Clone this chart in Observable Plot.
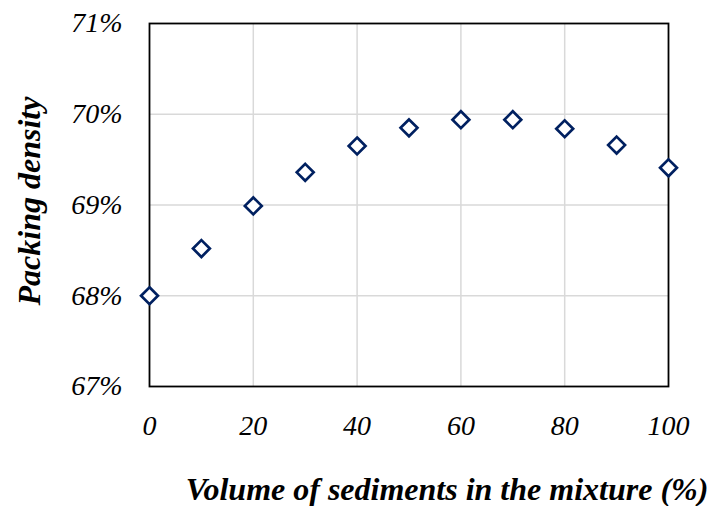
<!DOCTYPE html>
<html>
<head>
<meta charset="utf-8">
<script src="https://cdn.jsdelivr.net/npm/d3@7"></script>
<script src="https://cdn.jsdelivr.net/npm/@observablehq/plot@0.6"></script>
<style>
  html, body { margin: 0; padding: 0; background: #fff; }
  #chart svg { display: block; }
</style>
</head>
<body>
<div id="chart"></div>
<script>
const volume = [0, 10, 20, 30, 40, 50, 60, 70, 80, 90, 100];
const packing = [68.0, 68.52, 68.99, 69.36, 69.65, 69.85, 69.94, 69.94, 69.84, 69.66, 69.41];
const xTicks = [0, 20, 40, 60, 80, 100];
const yTicks = [67, 68, 69, 70, 71];
const xTitle = "Volume of sediments in the mixture (%)";
const yTitle = "Packing density";

const data = volume.map((v, i) => ({volume: v, packing: packing[i]}));

const chart = Plot.plot({
  width: 709,
  height: 506,
  marginLeft: 149,
  marginRight: 41,
  marginTop: 23,
  marginBottom: 120,
  style: {fontFamily: "'Liberation Serif', 'Times New Roman', serif", background: "#fff"},
  x: {domain: [0, 100]},
  y: {domain: [67, 71]},
  marks: [
    Plot.gridX([20, 40, 60, 80], {stroke: "#d9d9d9", strokeOpacity: 1, strokeWidth: 1.5}),
    Plot.gridY([68, 69, 70], {stroke: "#d9d9d9", strokeOpacity: 1, strokeWidth: 1.5}),
    Plot.frame({stroke: "#000", strokeWidth: 1.8}),
    Plot.axisX(xTicks, {tickSize: 0, tickPadding: 29, fontSize: 28, fontStyle: "italic", label: null, fill: "#000"}),
    Plot.axisY(yTicks, {tickSize: 0, tickPadding: 27, fontSize: 28, fontStyle: "italic", label: null, fill: "#000", tickFormat: d => d + "%"}),
    Plot.dot(data, {x: "volume", y: "packing", symbol: "diamond2", r: 7.6, stroke: "#002060", strokeWidth: 2.7, fill: "#fff"}),
    Plot.text([xTitle], {text: d => d, frameAnchor: "bottom", textAnchor: "middle", lineAnchor: "bottom", dy: 113, dx: 38, fontSize: 32, fontWeight: "bold", fontStyle: "italic", fill: "#000"}),
    Plot.text([yTitle], {text: d => d, frameAnchor: "left", textAnchor: "middle", lineAnchor: "middle", dx: -120, dy: -4, rotate: -90, fontSize: 32, fontWeight: "bold", fontStyle: "italic", fill: "#000"})
  ]
});
document.getElementById("chart").appendChild(chart);
</script>
</body>
</html>
